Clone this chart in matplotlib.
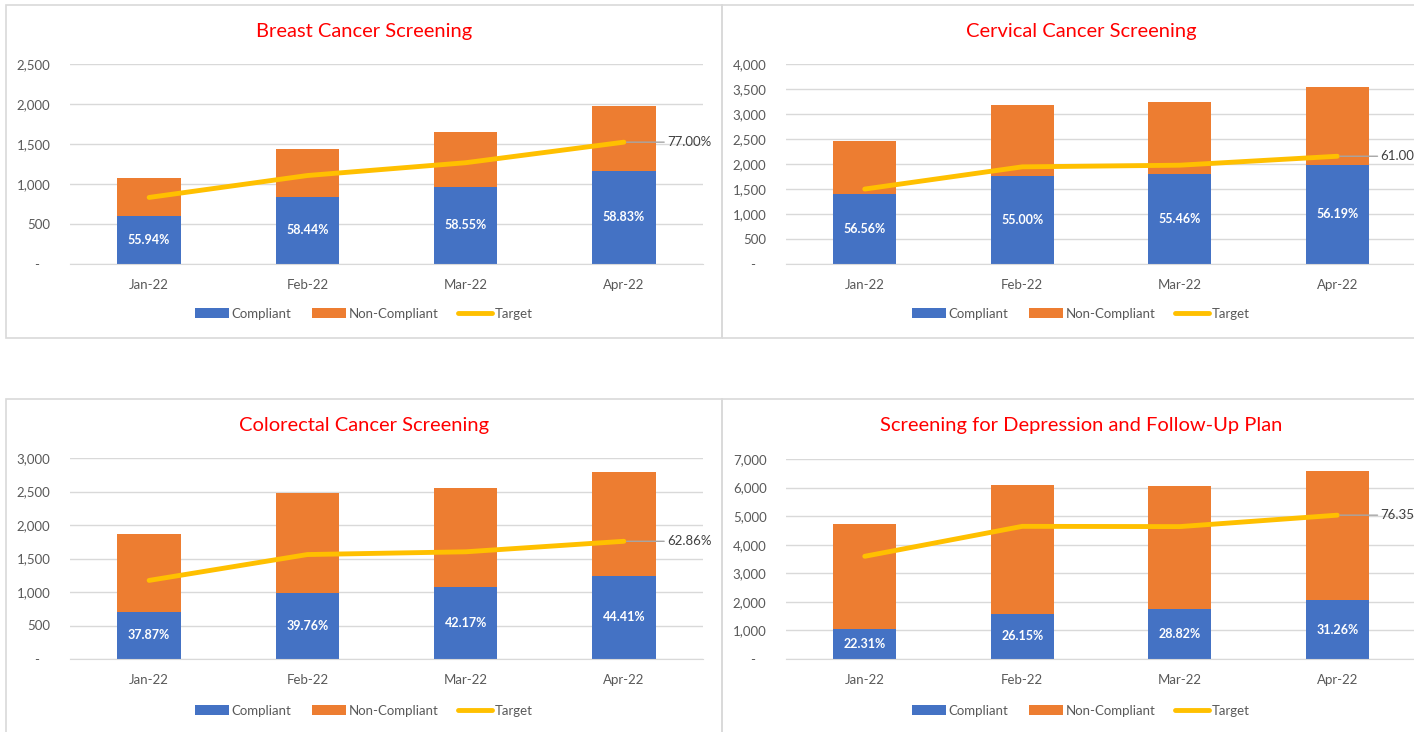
import matplotlib
matplotlib.use("Agg")
import matplotlib.pyplot as plt
from matplotlib.patches import Rectangle
from matplotlib.ticker import FuncFormatter
import numpy as np

plt.rcParams['font.family'] = ['Lato', 'DejaVu Sans']

# data
months = ['Jan-22', 'Feb-22', 'Mar-22', 'Apr-22']

titles = ['Breast Cancer Screening', 'Cervical Cancer Screening',
          'Colorectal Cancer Screening', 'Screening for Depression and Follow-Up Plan']

breast_comp = [605, 839, 963, 1164]
breast_non = [476, 597, 681, 814]
breast_target = [832, 1106, 1266, 1523]
breast_pct = ['55.94%', '58.44%', '58.55%', '58.83%']
breast_target_lbl = '77.00%'

cervical_comp = [1390, 1752, 1796, 1985]
cervical_non = [1067, 1433, 1443, 1548]
cervical_target = [1499, 1943, 1976, 2155]
cervical_pct = ['56.56%', '55.00%', '55.46%', '56.19%']
cervical_target_lbl = '61.00%'

colorectal_comp = [707, 986, 1074, 1241]
colorectal_non = [1159, 1494, 1472, 1554]
colorectal_target = [1173, 1559, 1600, 1757]
colorectal_pct = ['37.87%', '39.76%', '42.17%', '44.41%']
colorectal_target_lbl = '62.86%'

depression_comp = [1051, 1590, 1749, 2061]
depression_non = [3658, 4491, 4321, 4532]
depression_target = [3595, 4643, 4634, 5034]
depression_pct = ['22.31%', '26.15%', '28.82%', '31.26%']
depression_target_lbl = '76.35%'

ymaxes = [2500, 4000, 3000, 7000]

BLUE = '#4472C4'
ORANGE = '#ED7D31'
GOLD = '#FFC000'
GRID = '#D9D9D9'
TXT = '#595959'

W, H = 1414, 732
fig = plt.figure(figsize=(W / 100, H / 100), dpi=100)

def fx(px):
    return px / W

def fy(py):
    return 1 - py / H

# panel borders (pixel coords, from the top)
for (x0, y0, x1, y1) in [(6, 5, 722, 338), (722, 5, 1450, 338),
                         (6, 399, 722, 745), (722, 399, 1450, 745)]:
    fig.patches.append(Rectangle((fx(x0), fy(y1)), fx(x1 - x0), (y1 - y0) / H,
                                 transform=fig.transFigure, fill=False,
                                 edgecolor=GRID, linewidth=1.2, zorder=0))

# axes boxes: left, right, top, bottom in pixels
boxes = [(70, 703, 64, 264), (786, 1416, 64, 264),
         (70, 703, 458, 659), (786, 1416, 459, 659)]
panel_cx = [364, 1081, 364, 1081]
title_y = [31, 31, 426, 426]
legend_y = [314, 314, 711, 711]

data = [(breast_comp, breast_non, breast_target, breast_pct, breast_target_lbl),
        (cervical_comp, cervical_non, cervical_target, cervical_pct, cervical_target_lbl),
        (colorectal_comp, colorectal_non, colorectal_target, colorectal_pct, colorectal_target_lbl),
        (depression_comp, depression_non, depression_target, depression_pct, depression_target_lbl)]

def fmt(v, pos):
    if v == 0:
        return '-   '
    return '{:,.0f}'.format(v)

x = np.arange(len(months))
for i, (comp, non, target, pct, tlbl) in enumerate(data):
    l, r, t, b = boxes[i]
    ax = fig.add_axes([fx(l), fy(b), fx(r - l), (b - t) / H])
    h1 = ax.bar(x, comp, width=0.4, color=BLUE, label='Compliant', zorder=2)
    h2 = ax.bar(x, non, bottom=comp, width=0.4, color=ORANGE, label='Non-Compliant', zorder=2)
    h3, = ax.plot(x, target, color=GOLD, linewidth=3.5, label='Target', zorder=3,
                  solid_capstyle='round')
    for xi, c, p in zip(x, comp, pct):
        ax.text(xi, c / 2, p, color='white', fontsize=9, fontweight='bold',
                ha='center', va='center', zorder=4)
    ax.annotate(tlbl, xy=(x[-1], target[-1]), xytext=(31, 0), textcoords='offset points',
                ha='left', va='center', fontsize=9.5, color='#404040',
                arrowprops=dict(arrowstyle='-', color='#A6A6A6', lw=1,
                                shrinkA=0, shrinkB=2),
                annotation_clip=False, zorder=4)
    ax.set_xlim(-0.5, 3.5)
    ax.set_ylim(0, ymaxes[i])
    step = 500 if ymaxes[i] <= 4000 else 1000
    ax.set_yticks(np.arange(0, ymaxes[i] + 1, step))
    ax.yaxis.set_major_formatter(FuncFormatter(fmt))
    ax.set_xticks(x)
    ax.set_xticklabels(months)
    ax.tick_params(axis='both', length=0, colors=TXT, labelsize=9.5)
    ax.tick_params(axis='y', pad=14)
    ax.tick_params(axis='x', pad=11)
    ax.grid(axis='y', color=GRID, linewidth=1, zorder=0)
    ax.set_axisbelow(True)
    for s in ['top', 'right', 'left']:
        ax.spines[s].set_visible(False)
    ax.spines['bottom'].set_color(GRID)
    fig.text(fx(panel_cx[i]), fy(title_y[i]), titles[i], color='#FF0000',
             fontsize=14.5, ha='center', va='center')
    ax.legend([h1, h2, h3], ['Compliant', 'Non-Compliant', 'Target'],
              loc='center', bbox_to_anchor=(fx(panel_cx[i]), fy(legend_y[i])),
              bbox_transform=fig.transFigure, ncol=3, frameon=False,
              fontsize=9.5, labelcolor=TXT, handlelength=2.6, handleheight=0.8,
              handletextpad=0.2, columnspacing=1.5)

fig.savefig('out.png', dpi=100, facecolor='white')
